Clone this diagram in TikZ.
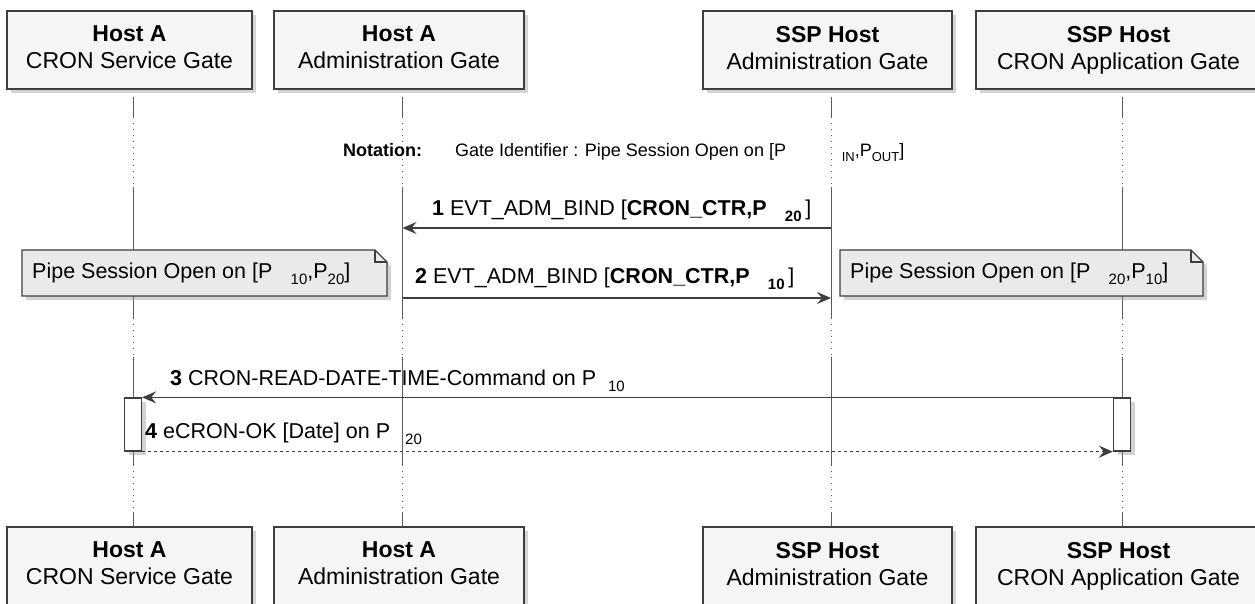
\documentclass[tikz,border=0pt]{standalone}
\usepackage{fontspec}
\setmainfont{Liberation Sans}
\usetikzlibrary{arrows.meta,positioning,shadows}
\definecolor{SeqInk}{HTML}{3E3E3E}
\definecolor{SeqBox}{HTML}{F5F5F5}
\definecolor{SeqNote}{HTML}{EAEAEA}
% subscript set apart from its letter, as the picture prints it
\newcommand{\psub}[3][15]{\hspace{#2}\raisebox{-0.32em}{\fontsize{#1}{#1}\selectfont #3}}

\begin{document}
\begin{tikzpicture}[x=1pt, y=-1pt, >={Stealth[length=14pt,width=12pt,inset=5pt]},
  party/.style={draw=SeqInk, line width=1.4pt, fill=SeqBox, minimum height=78pt, inner sep=0pt, align=center, font=\fontsize{23}{27}\selectfont, execute at begin node=\rule{0pt}{27.5pt}, execute at end node=\rule[-5pt]{0pt}{5pt}, drop shadow={shadow xshift=4pt, shadow yshift=-4pt, opacity=0.35}},
  life/.style={SeqInk!85, line width=1pt},
  delay/.style={life, dash pattern=on 1pt off 5pt},
  act/.style={draw=SeqInk, line width=1.3pt, fill=white, minimum width=17pt, minimum height=53pt, inner sep=0pt, drop shadow={shadow xshift=4pt, shadow yshift=-4pt, opacity=0.35}},
  note/.style={draw=SeqInk, line width=1.2pt, fill=SeqNote, drop shadow={shadow xshift=4pt, shadow yshift=-4pt, opacity=0.35}},
  fold/.style={draw=SeqInk, line width=1.2pt},
  msg/.style={->, line width=1.2pt, SeqInk},
  reply/.style={msg, dash pattern=on 3pt off 3pt},
  lbl/.style={anchor=base west, inner sep=0pt, font=\fontsize{21.5}{26}\selectfont},
  small/.style={anchor=base west, inner sep=0pt, font=\fontsize{18}{22}\selectfont}]
\useasboundingbox (0,0) rectangle (1255,603);

% participants, top and bottom
\node[party, minimum width=245pt] (svc-top) at (129.5,50) {\textbf{Host A}\\CRON Service Gate};
\node[party, minimum width=250pt] (admA-top) at (399,50) {\textbf{Host A}\\Administration Gate};
\node[party, minimum width=249pt] (admS-top) at (827.5,50) {\textbf{SSP Host}\\Administration Gate};
\node[party, minimum width=285pt] (app-top) at (1118.5,50) {\textbf{SSP Host}\\CRON Application Gate};
\node[party, minimum width=245pt] (svc-bot) at (129.5,566) {\textbf{Host A}\\CRON Service Gate};
\node[party, minimum width=250pt] (admA-bot) at (399,566) {\textbf{Host A}\\Administration Gate};
\node[party, minimum width=249pt] (admS-bot) at (827.5,566) {\textbf{SSP Host}\\Administration Gate};
\node[party, minimum width=285pt] (app-bot) at (1118.5,566) {\textbf{SSP Host}\\CRON Application Gate};

% lifelines with their delays
\foreach \n in {svc,admA,admS,app}{
  \coordinate (\n) at ([xshift=3.5pt]\n-top.south);
  \foreach \a/\b/\s in {97/117/life,117/187/delay,187/318/life,318/357/delay,357/465/life,465/512/delay,512/527/life}
    \draw[\s] (\n |- 0,\a) -- (\n |- 0,\b);
}

% notation line
\node[small] (notation) at (343,156) {\textbf{Notation:}};
\node[small] (notation-txt) at (455,156) {Gate Identifier : Pipe Session Open on [P\psub[13]{3.1em}{IN},P\psub[13]{0pt}{OUT}]};

% notes
\filldraw[note] (22,250) -- (375,250) -- (387,262) -- (387,296) -- (22,296) -- cycle;
\draw[fold] (375,250) |- (387,262);
\node[lbl] (noteL) at (32,278) {Pipe Session Open on [P\psub{0.85em}{10},P\psub{0pt}{20}]};
\filldraw[note] (840,250) -- (1191,250) -- (1203,262) -- (1203,296) -- (840,296) -- cycle;
\draw[fold] (1191,250) |- (1203,262);
\node[lbl] (noteR) at (850,278) {Pipe Session Open on [P\psub{0.85em}{20},P\psub{0pt}{10}]};

% bind messages
\draw[msg] (admS |- 0,228) -- (admA |- 0,228);
\node[lbl] (m1) at (432,215) {\textbf{1} EVT\_ADM\_BIND [\textbf{CRON\_CTR,P\psub{0.85em}{20}}\,]};
\draw[msg] (admA |- 0,298) -- (admS |- 0,298);
\node[lbl] (m2) at (415,283) {\textbf{2} EVT\_ADM\_BIND [\textbf{CRON\_CTR,P\psub{0.85em}{10}}\,]};

% read date and time
\node[act] (svc-act) at (svc |- 0,424.5) {};
\node[act] (app-act) at (app |- 0,424.5) {};
\draw[msg] (app-act.north west) -- (svc-act.north east);
\node[lbl] (m3) at (170,385) {\textbf{3} CRON-READ-DATE-TIME-Command on P\psub{0.55em}{10}};
\draw[reply] (svc-act.south east) -- (app-act.south west);
\node[lbl] (m4) at (145,438) {\textbf{4} eCRON-OK [Date] on P\psub{0.7em}{20}};

\end{tikzpicture}
\end{document}
